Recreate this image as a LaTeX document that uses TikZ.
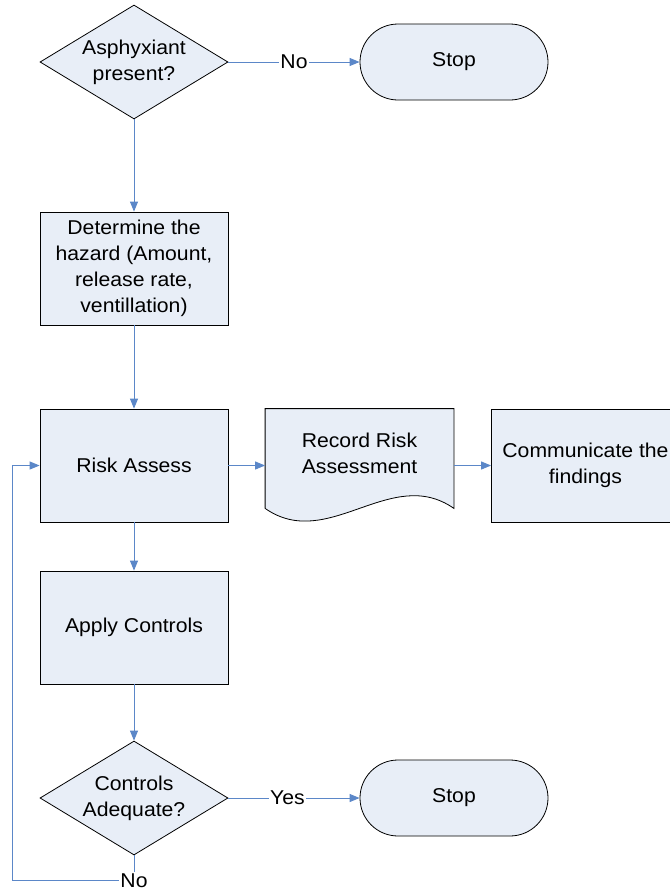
\documentclass[tikz,border=0pt]{standalone}
\usepackage{fontspec}
\setmainfont{Liberation Sans}[FakeStretch=1.06]
\usetikzlibrary{shapes.geometric,arrows.meta,calc}
\definecolor{boxfill}{HTML}{E8EEF7}
\definecolor{flowblue}{HTML}{5B87C8}
\tikzset{
  box/.style={draw=black, line width=0.6pt, fill=boxfill, rectangle, align=center,
    minimum width=141pt, minimum height=84.75pt, inner sep=2pt},
  decision/.style={draw=black, line width=0.6pt, fill=boxfill, diamond, aspect=1.65, align=center,
    minimum width=141pt, minimum height=85.5pt, inner sep=0pt},
  terminal/.style={draw=black, line width=0.6pt, fill=boxfill, rectangle, rounded corners=28.5pt,
    minimum width=141pt, minimum height=57pt},
  flow/.style={draw=flowblue, line width=0.75pt, -{Triangle[length=7.5pt,width=6pt]}},
  lbl/.style={fill=white, inner sep=1pt}
}
\begin{document}
\begin{tikzpicture}[x=0.75pt, y=-0.75pt, every node/.style={font=\fontsize{15}{19.5}\selectfont}]
  \clip (0,0) rectangle (670,893);

  % 上部判断
  \node[decision] (ask) at (134,62) {Asphyxiant\\present?};
  \node[terminal] (stopa) at (454,62) {Stop};
  \node[box] (hazard) at (134,268.5) {Determine the\\hazard (Amount,\\release rate,\\ventillation)};

  % 评估一行
  \node[box] (risk) at (134,465.5) {Risk Assess};
  \node[box, draw=none, fill=none] (rec) at (359.5,465.5) {};
  \filldraw[draw=black, line width=0.6pt, fill=boxfill] (rec.south west) ++(0,-14) -- (rec.north west)
    -- (rec.north east) -- ($(rec.south east)+(0,-14)$)
    .. controls ($(rec.south east)+(-63,-58)$) and ($(rec.south west)+(63,30)$) .. ($(rec.south west)+(0,-14)$);
  \node[align=center] (rectxt) at (359.5,453) {Record Risk\\Assessment};
  \node[box] (comm) at (585.5,465.5) {Communicate the\\findings};

  % 下部控制
  \node[box] (apply) at (134,627.5) {Apply Controls};
  \node[decision] (ctrl) at (134,798) {Controls\\Adequate?};
  \node[terminal] (stopb) at (454,798) {Stop};

  % 连线
  \draw[flow] (ask.east) -- node[lbl] {No} (stopa.west);
  \draw[flow] (ask.south) -- (hazard.north);
  \draw[flow] (hazard.south) -- (risk.north);
  \draw[flow] (risk.east) -- (rec.west);
  \draw[flow] (rec.east) -- (comm.west);
  \draw[flow] (risk.south) -- (apply.north);
  \draw[flow] (apply.south) -- (ctrl.north);
  \draw[flow] (ctrl.east) -- node[lbl, pos=0.45] {Yes} (stopb.west);
  \draw[flow] (ctrl.south) -- ++(0,25) coordinate (turn) -- ++(-122,0) |- (risk.west);
  \node[lbl] (no) at (turn) {No};
\end{tikzpicture}
\end{document}
